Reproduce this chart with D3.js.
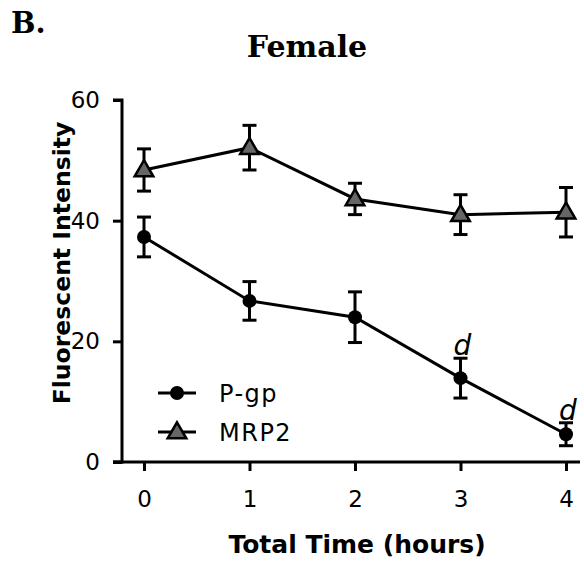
<!DOCTYPE html>
<html>
<head>
<meta charset="utf-8">
<script src="https://cdn.jsdelivr.net/npm/d3@7"></script>
<style>
  body { margin: 0; background: #fff; }
  text { font-family: "DejaVu Sans", sans-serif; }
</style>
</head>
<body>
<div id="chart"></div>
<script>
// data
var hours = [0, 1, 2, 3, 4];
var pgpMean = [37.3, 26.7, 24.0, 13.9, 4.6];
var pgpErr = [3.3, 3.2, 4.2, 3.3, 1.9];
var mrp2Mean = [48.4, 52.1, 43.6, 41.0, 41.4];
var mrp2Err = [3.5, 3.7, 2.6, 3.3, 4.1];
var sigMarks = ["", "", "", "d", "d"]; // letters over P-gp points
var yTicks = [0, 20, 40, 60];

var width = 584,
    height = 564;

var svg = d3.select("#chart")
    .append("svg")
    .attr("width", width)
    .attr("height", height);

var x = d3.scaleLinear().domain([0, 4]).range([144, 566]);
var y = d3.scaleLinear().domain([0, 60]).range([462, 100]);

// panel letter + title
svg.append("text")
    .attr("x", 11).attr("y", 33)
    .style("font-family", "DejaVu Serif")
    .style("font-weight", "bold")
    .style("font-size", "29px")
    .text("B.");

svg.append("text")
    .attr("x", 307).attr("y", 57)
    .attr("text-anchor", "middle")
    .style("font-family", "DejaVu Serif")
    .style("font-weight", "bold")
    .style("font-size", "30px")
    .text("Female");

// axes
var yAxis = d3.axisLeft(y).tickValues(yTicks).tickFormat(d3.format("d")).tickSize(9).tickPadding(13);
var gy = svg.append("g")
    .attr("transform", "translate(122,0)")
    .call(yAxis);
gy.select(".domain").attr("d", "M-9,100H0V462H-9");

var xAxis = d3.axisBottom(x).tickValues(hours).tickFormat(d3.format("d")).tickSize(9).tickPadding(20);
var gx = svg.append("g")
    .attr("transform", "translate(0,462)")
    .call(xAxis);
gx.select(".domain").attr("d", "M113,0H580");

svg.selectAll(".domain").attr("stroke", "#000").attr("stroke-width", 3);
svg.selectAll(".tick line").attr("stroke", "#000").attr("stroke-width", 3);
svg.selectAll(".tick text")
    .style("font-family", "DejaVu Sans")
    .style("font-size", "23px")
    .attr("fill", "#000");

// axis titles
svg.append("text")
    .attr("x", 357).attr("y", 553)
    .attr("text-anchor", "middle")
    .style("font-weight", "bold")
    .style("font-size", "25px")
    .text("Total Time (hours)");

svg.append("text")
    .attr("transform", "translate(70,263) rotate(-90)")
    .attr("text-anchor", "middle")
    .style("font-weight", "bold")
    .style("font-size", "23.5px")
    .text("Fluorescent Intensity");

var line = d3.line()
    .x(function(d) { return x(d.t); })
    .y(function(d) { return y(d.v); });

function seriesData(means, errs) {
    return hours.map(function(t, i) {
        return { t: t, v: means[i], e: errs[i], mark: sigMarks[i] };
    });
}

var pgp = seriesData(pgpMean, pgpErr);
var mrp2 = seriesData(mrp2Mean, mrp2Err);

var triangle = d3.symbol().type(d3.symbolTriangle).size(150);

function drawSeries(data, kind) {
    var g = svg.append("g");
    g.append("path")
        .datum(data)
        .attr("d", line)
        .attr("fill", "none")
        .attr("stroke", "#000")
        .attr("stroke-width", 3);

    var bars = g.selectAll(".err")
        .data(data)
        .enter().append("g")
        .attr("class", "err")
        .attr("stroke", "#000")
        .attr("stroke-width", 3);
    bars.append("line")
        .attr("x1", function(d) { return x(d.t); })
        .attr("x2", function(d) { return x(d.t); })
        .attr("y1", function(d) { return y(d.v + d.e); })
        .attr("y2", function(d) { return y(d.v - d.e); });
    [1, -1].forEach(function(s) {
        bars.append("line")
            .attr("x1", function(d) { return x(d.t) - 7; })
            .attr("x2", function(d) { return x(d.t) + 7; })
            .attr("y1", function(d) { return y(d.v + s * d.e); })
            .attr("y2", function(d) { return y(d.v + s * d.e); });
    });

    if (kind == "circle") {
        g.selectAll(".pt")
            .data(data)
            .enter().append("circle")
            .attr("cx", function(d) { return x(d.t); })
            .attr("cy", function(d) { return y(d.v); })
            .attr("r", 7)
            .attr("fill", "#000");
    } else {
        g.selectAll(".pt")
            .data(data)
            .enter().append("path")
            .attr("d", triangle)
            .attr("transform", function(d) { return "translate(" + x(d.t) + "," + (y(d.v) + 1) + ")"; })
            .attr("fill", "#666")
            .attr("stroke", "#000")
            .attr("stroke-width", 2.5);
    }
}

drawSeries(mrp2, "triangle");
drawSeries(pgp, "circle");

// significance letters
svg.selectAll(".sig")
    .data(pgp.filter(function(d) { return d.mark; }))
    .enter().append("text")
    .attr("x", function(d) { return x(d.t) + 2; })
    .attr("y", function(d) { return y(d.v + d.e) - 3; })
    .attr("text-anchor", "middle")
    .style("font-style", "italic")
    .style("font-size", "28px")
    .text(function(d) { return d.mark; });

// legend
var legend = svg.append("g").attr("transform", "translate(158,393)");
var items = [{ name: "P-gp", kind: "circle" }, { name: "MRP2", kind: "triangle" }];
items.forEach(function(it, i) {
    var row = legend.append("g").attr("transform", "translate(0," + (i * 39) + ")");
    row.append("line")
        .attr("x1", 0).attr("x2", 38)
        .attr("stroke", "#000").attr("stroke-width", 3);
    if (it.kind == "circle") {
        row.append("circle").attr("cx", 19).attr("r", 7).attr("fill", "#000");
    } else {
        row.append("path")
            .attr("d", triangle)
            .attr("transform", "translate(19,1)")
            .attr("fill", "#666")
            .attr("stroke", "#000")
            .attr("stroke-width", 2.5);
    }
    row.append("text")
        .attr("x", 61).attr("y", 9)
        .style("font-size", "24px")
        .style("letter-spacing", "1.5px")
        .text(it.name);
});
</script>
</body>
</html>
